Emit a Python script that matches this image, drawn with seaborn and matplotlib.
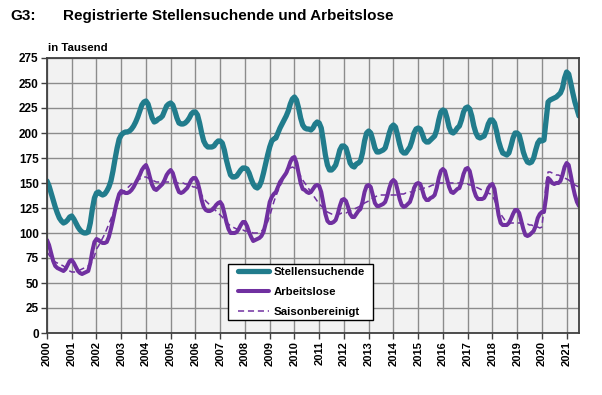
import matplotlib
matplotlib.use("Agg")
import matplotlib.pyplot as plt
from matplotlib.patches import Rectangle
import seaborn as sns
import numpy as np
import pandas as pd

# ---------------- data (monthly, Jan 2000 - Jul 2021, in thousands) ----------------
start_year = 2000
stellensuchende = [
    152, 147, 140, 133, 126, 120, 115, 112, 110, 111, 113, 116,   # 2000
    117, 114, 110, 106, 103, 101, 100, 100, 101, 110, 124, 135,   # 2001
    140, 141, 139, 138, 139, 142, 146, 152, 162, 174, 185, 194,   # 2002
    198, 200, 201, 201, 202, 204, 207, 211, 216, 222, 228, 231,   # 2003
    232, 229, 222, 215, 211, 212, 214, 215, 217, 222, 227, 229,   # 2004
    230, 228, 222, 215, 210, 209, 209, 210, 212, 215, 219, 221,   # 2005
    221, 218, 210, 200, 192, 188, 186, 186, 186, 187, 190, 192,   # 2006
    192, 190, 183, 173, 165, 158, 156, 156, 157, 160, 163, 165,   # 2007
    165, 164, 160, 154, 149, 146, 145, 147, 152, 160, 169, 178,   # 2008
    186, 192, 194, 195, 200, 205, 209, 213, 217, 222, 229, 234,   # 2009
    236, 233, 225, 215, 208, 205, 204, 204, 203, 205, 209, 211,   # 2010
    210, 205, 192, 178, 168, 163, 163, 165, 168, 175, 183, 187,   # 2011
    187, 185, 178, 170, 167, 166, 169, 170, 172, 180, 192, 200,   # 2012
    202, 200, 193, 185, 181, 181, 182, 183, 185, 192, 200, 206,   # 2013
    208, 206, 198, 189, 182, 180, 180, 183, 186, 192, 200, 204,   # 2014
    205, 204, 199, 193, 191, 191, 193, 195, 197, 203, 213, 221,   # 2015
    223, 222, 215, 206, 201, 200, 202, 205, 207, 213, 221, 225,   # 2016
    226, 224, 217, 207, 200, 196, 195, 196, 197, 202, 209, 213,   # 2017
    213, 210, 202, 192, 185, 180, 179, 178, 180, 187, 195, 200,   # 2018
    200, 198, 190, 181, 175, 171, 170, 171, 175, 183, 190, 193,   # 2019
    192, 193, 212, 231, 233, 234, 235, 236, 238, 240, 245, 255,   # 2020
    261, 259, 250, 240, 231, 224, 217,                            # 2021
]
arbeitslose = [
    93, 88, 80, 72, 67, 65, 64, 63, 62, 64, 68, 72,               # 2000
    73, 70, 66, 62, 60, 59, 60, 61, 62, 70, 82, 91,               # 2001
    94, 93, 91, 90, 90, 91, 96, 104, 113, 123, 132, 139,          # 2002
    142, 141, 140, 140, 141, 143, 146, 150, 154, 158, 163, 166,   # 2003
    168, 163, 155, 148, 144, 143, 145, 147, 149, 153, 158, 161,   # 2004
    163, 160, 153, 146, 141, 140, 141, 143, 145, 149, 153, 155,   # 2005
    155, 151, 143, 133, 126, 123, 122, 122, 123, 125, 128, 130,   # 2006
    131, 128, 120, 111, 104, 100, 100, 100, 101, 104, 108, 111,   # 2007
    111, 107, 101, 96, 92, 93, 94, 95, 97, 101, 109, 120,         # 2008
    131, 136, 139, 141, 146, 151, 154, 157, 160, 165, 171, 175,   # 2009
    176, 170, 160, 150, 144, 143, 141, 140, 141, 144, 147, 148,   # 2010
    147, 141, 130, 119, 112, 110, 110, 111, 113, 119, 127, 133,   # 2011
    134, 132, 126, 119, 116, 116, 119, 122, 124, 131, 141, 147,   # 2012
    148, 146, 138, 130, 127, 127, 128, 129, 131, 137, 145, 151,   # 2013
    153, 151, 143, 134, 128, 126, 127, 129, 131, 137, 145, 149,   # 2014
    150, 149, 143, 136, 133, 133, 135, 136, 138, 145, 155, 162,   # 2015
    164, 162, 154, 146, 141, 140, 142, 144, 145, 151, 159, 164,   # 2016
    165, 162, 153, 143, 137, 134, 134, 134, 135, 139, 145, 148,   # 2017
    149, 144, 131, 118, 110, 108, 108, 108, 110, 114, 119, 123,   # 2018
    123, 120, 112, 104, 98, 97, 98, 100, 102, 107, 115, 119,      # 2019
    121, 121, 135, 155, 153, 150, 149, 150, 150, 152, 158, 166,   # 2020
    170, 168, 158, 147, 138, 131, 127,                            # 2021
]
saisonbereinigt = [
    81, 78, 75, 73, 71, 70, 69, 68, 67, 65, 63, 62,               # 2000
    61, 61, 61, 62, 63, 64, 65, 66, 67, 69, 72, 77,               # 2001
    84, 87, 91, 95, 99, 104, 109, 114, 119, 124, 129, 134,        # 2002
    138, 141, 143, 145, 147, 149, 150, 152, 153, 154, 155, 156,   # 2003
    156, 155, 154, 153, 152, 151, 151, 151, 151, 151, 151, 151,   # 2004
    151, 151, 151, 150, 150, 150, 150, 149, 149, 148, 147, 146,   # 2005
    146, 144, 141, 138, 135, 132, 130, 128, 126, 124, 122, 120,   # 2006
    118, 116, 113, 111, 109, 107, 106, 105, 104, 103, 103, 103,   # 2007
    102, 102, 101, 101, 100, 100, 100, 101, 102, 104, 107, 111,   # 2008
    117, 124, 131, 137, 142, 147, 151, 155, 159, 162, 165, 166,   # 2009
    165, 163, 160, 157, 153, 150, 147, 144, 141, 138, 135, 132,   # 2010
    129, 127, 125, 123, 121, 120, 119, 119, 119, 119, 119, 120,   # 2011
    120, 120, 121, 122, 123, 124, 125, 126, 127, 128, 130, 131,   # 2012
    132, 134, 135, 136, 137, 138, 138, 138, 138, 138, 138, 138,   # 2013
    138, 138, 138, 139, 139, 139, 140, 140, 141, 141, 142, 143,   # 2014
    143, 144, 144, 145, 145, 146, 147, 148, 148, 149, 150, 150,   # 2015
    150, 150, 150, 150, 150, 150, 150, 150, 150, 150, 149, 149,   # 2016
    149, 148, 148, 147, 146, 145, 144, 143, 142, 141, 140, 139,   # 2017
    137, 133, 128, 123, 119, 116, 113, 111, 110, 110, 110, 110,   # 2018
    110, 110, 110, 109, 109, 109, 108, 108, 107, 106, 106, 105,   # 2019
    106, 125, 150, 161, 161, 160, 159, 158, 158, 157, 156, 155,   # 2020
    154, 153, 151, 150, 148, 147, 146,                            # 2021
]
year_ticks = list(range(2000, 2022))
y_ticks = list(range(0, 276, 25))

# ---------------- build frame ----------------
n = len(stellensuchende)
t = [start_year + i / 12 for i in range(n)]
df = pd.DataFrame({"t": t, "Stellensuchende": stellensuchende,
                   "Arbeitslose": arbeitslose, "Saisonbereinigt": saisonbereinigt})

TEAL = "#217C8C"
PURPLE = "#7030A0"

plt.rcParams["font.family"] = ["Liberation Sans", "DejaVu Sans"]
plt.rcParams["font.weight"] = "bold"

fig = plt.figure(figsize=(6.02, 3.95), dpi=100)
ax = fig.add_axes([47 / 602, 1 - 333 / 395, 532 / 602, 275 / 395])
ax.set_facecolor("#F2F2F2")

sns.lineplot(data=df, x="t", y="Stellensuchende", ax=ax, color=TEAL,
             linewidth=3.8, label="Stellensuchende", solid_capstyle="round")
sns.lineplot(data=df, x="t", y="Arbeitslose", ax=ax, color=PURPLE,
             linewidth=2.9, label="Arbeitslose", solid_capstyle="round")
sns.lineplot(data=df, x="t", y="Saisonbereinigt", ax=ax, color=PURPLE,
             linewidth=1.1, linestyle=(0, (4, 2.5)), label="Saisonbereinigt")

ax.set_xlim(2000, 2021.5)
ax.set_ylim(0, 275)
ax.set_xticks(year_ticks)
ax.set_xticklabels([str(y) for y in year_ticks], rotation=90, fontsize=8,
                   fontweight="bold")
ax.set_yticks(y_ticks)
ax.set_yticklabels([str(v) for v in y_ticks], fontsize=8.5, fontweight="bold")
ax.set_xlabel("")
ax.set_ylabel("")
ax.grid(True, color="#8C8C8C", linewidth=1.0)
ax.set_axisbelow(True)
ax.tick_params(axis="both", direction="out", length=4, width=1, color="#404040", pad=2)
for s in ax.spines.values():
    s.set_color("#404040")
    s.set_linewidth(1.3)

# legend box (drawn separately so the inner padding matches the reference)
ax.add_patch(Rectangle(((228 - 47) / 532, (333 - 320) / 275), 145 / 532, 56 / 275,
                       transform=ax.transAxes, facecolor="white", edgecolor="black",
                       linewidth=1.0, zorder=4))
leg = ax.legend(loc="center left", bbox_to_anchor=((238 - 47) / 532, (333 - 292) / 275),
                borderaxespad=0, frameon=False, prop={"size": 8.2, "weight": "bold"},
                handlelength=2.7, borderpad=0, labelspacing=0.9, handletextpad=0.45)
leg.set_zorder(5)

fig.text(10 / 602, 1 - 16 / 395, "G3:", fontsize=11, fontweight="bold", va="center")
fig.text(63 / 602, 1 - 16 / 395, "Registrierte Stellensuchende und Arbeitslose",
         fontsize=11, fontweight="bold", va="center")
fig.text(48 / 602, 1 - 48 / 395, "in Tausend", fontsize=8.2, fontweight="bold", va="center")

fig.savefig("out.png", dpi=100)
